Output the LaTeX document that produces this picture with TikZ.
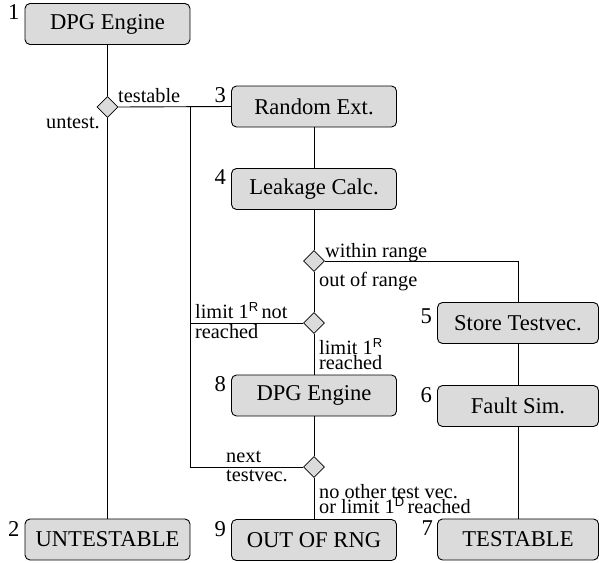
\documentclass[tikz,border=0pt]{standalone}
\usepackage{fontspec}
\setmainfont{Liberation Serif}
\newfontfamily\supfont{Liberation Sans}
\usetikzlibrary{shapes.geometric}

% raised sans-serif index, as in 1^R
\newcommand{\rindex}[1]{\raisebox{6.5pt}{\supfont\fontsize{13}{13}\selectfont #1}}

\tikzset{
  stage/.style={draw=black, line width=0.9pt, fill=black!14, rounded corners=5pt,
    minimum width=165pt, minimum height=41pt, inner sep=0pt,
    font=\fontsize{22.6}{24}\selectfont},
  narrowstage/.style={stage, minimum width=161pt},
  branch/.style={diamond, draw=black, line width=0.8pt, fill=black!14, aspect=1,
    minimum width=21pt, minimum height=21pt, inner sep=0pt},
  stagenum/.style={anchor=north east, inner sep=0pt, font=\fontsize{22.6}{24}\selectfont},
  cond/.style={anchor=base west, inner sep=0pt, font=\fontsize{20.3}{22}\selectfont},
  flow/.style={draw=black, line width=0.9pt}
}

\begin{document}
\begin{tikzpicture}[x=1pt, y=-1pt]
\useasboundingbox (0,0) rectangle (599,562);

% processing stages
\node[stage] (b1) at (107.5,24) {DPG Engine};
\node[stage] (b2) at (107.5,539.5) {UNTESTABLE};
\node[stage] (b3) at (314,106.5) {Random Ext.};
\node[stage] (b4) at (314,189) {Leakage Calc.};
\node[narrowstage] (b5) at (518,323) {Store Testvec.};
\node[narrowstage] (b6) at (518,406) {Fault Sim.};
\node[narrowstage] (b7) at (518,539.5) {TESTABLE};
\node[stage] (b8) at (314,395.5) {DPG Engine};
\node[stage] (b9) at (314,540) {OUT OF RNG};

% stage numbers
\node[stagenum] (n1) at ([xshift=-5pt,yshift=-1pt]b1.north west) {1};
\node[stagenum] (n2) at ([xshift=-5pt,yshift=-3pt]b2.north west) {2};
\node[stagenum] (n3) at ([xshift=-5pt,yshift=-2pt]b3.north west) {3};
\node[stagenum] (n4) at ([xshift=-5pt,yshift=-1pt]b4.north west) {4};
\node[stagenum] (n5) at ([xshift=-5pt,yshift=-6pt]b5.north west) {5};
\node[stagenum] (n6) at ([xshift=-5pt,yshift=-2pt]b6.north west) {6};
\node[stagenum] (n7) at ([xshift=-4pt,yshift=-2pt]b7.north west) {7};
\node[stagenum] (n8) at ([xshift=-5pt,yshift=-2pt]b8.north west) {8};
\node[stagenum] (n9) at ([xshift=-5pt,yshift=-2pt]b9.north west) {9};

% decisions
\node[branch] (d1) at (107.5,107) {};
\node[branch] (d2) at (314,261) {};
\node[branch] (d3) at (314,323) {};
\node[branch] (d4) at (314,467) {};

% merge point of the two loop-back paths
\coordinate (loop) at (190,107);

% connectors
\draw[flow] (b1) -- (d1);
\draw[flow] (d1) -- (b2);
\draw[flow] (d1.east) -- (b3.west);
\draw[flow] (b3) -- (b4);
\draw[flow] (b4) -- (d2);
\draw[flow] (d2.east) -| (b5.north);
\draw[flow] (b5) -- (b6);
\draw[flow] (b6) -- (b7);
\draw[flow] (d2) -- (d3);
\draw[flow] (d3.west) -| (loop);
\draw[flow] (d3) -- (b8);
\draw[flow] (b8) -- (d4);
\draw[flow] (d4.west) -| (loop);
\draw[flow] (d4) -- (b9);

% branch conditions
\node[cond] (c1) at (118,102) {testable};
\node[cond, anchor=base east] (c2) at (100,128) {untest.};
\node[cond] (c3) at (325,257) {within range};
\node[cond] (c4) at (319,286) {out of range};
\node[cond] (c5a) at (195,318) {limit 1\rindex{R}\,not};
\node[cond] (c5b) at (195,338) {reached};
\node[cond] (c6a) at (319,354) {limit 1\rindex{R}};
\node[cond] (c6b) at (319,369) {reached};
\node[cond] (c7a) at (226,462) {next};
\node[cond] (c7b) at (226,481) {testvec.};
\node[cond] (c8a) at (319,498) {no other test vec.};
\node[cond] (c8b) at (319,513) {or limit 1\rindex{D}\,reached};
\end{tikzpicture}
\end{document}
